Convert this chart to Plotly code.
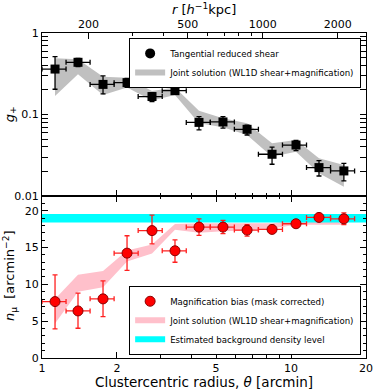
import plotly.graph_objects as go

# bins in clustercentric radius (arcmin)
theta = [1.128, 1.395, 1.758, 2.195, 2.765, 3.42, 4.27, 5.33, 6.66, 8.39, 10.47, 12.95, 16.3]
theta_edges = [1.0, 1.249, 1.560, 1.948, 2.433, 3.039, 3.796, 4.741, 5.922, 7.396,
               9.238, 11.54, 14.41, 18.0]

# tangential reduced shear
g_t = [0.361, 0.437, 0.234, 0.246, 0.166, 0.196, 0.080, 0.081, 0.0658, 0.0325, 0.0422, 0.0223, 0.0203]
g_t_hi = [0.512, 0.489, 0.297, 0.278, 0.185, 0.216, 0.094, 0.094, 0.074, 0.0397, 0.048, 0.0271, 0.0251]
g_t_lo = [0.204, 0.386, 0.179, 0.216, 0.144, 0.179, 0.0646, 0.068, 0.056, 0.0245, 0.036, 0.0176, 0.0153]
g_joint_hi = [0.49, 0.476, 0.291, 0.283, 0.194, 0.215, 0.111, 0.0898, 0.078, 0.0443, 0.0486, 0.029, 0.024]
g_joint_lo = [0.169, 0.311, 0.173, 0.215, 0.148, 0.173, 0.078, 0.0697, 0.056, 0.0303, 0.035, 0.019, 0.013]

# magnification bias (counts per arcmin^2)
n_mu = [7.66, 6.39, 8.03, 14.24, 17.3, 14.56, 17.78, 17.78, 17.37, 17.46, 18.23, 19.09, 18.9]
n_mu_hi = [11.3, 8.8, 10.48, 16.6, 19.4, 16.05, 18.9, 18.7, 18.1, 18.0, 18.5, 19.46, 19.7]
n_mu_lo = [3.95, 4.04, 5.62, 11.9, 15.5, 13.0, 16.65, 16.9, 16.55, 16.96, 17.87, 18.7, 18.1]
n_joint_hi = [8.0, 11.3, 11.8, 14.6, 15.4, 18.2, 18.3, 18.3, 18.3, 18.3, 18.8, 18.8, 18.8]
n_joint_lo = [4.7, 9.0, 9.6, 13.1, 14.2, 17.4, 17.0, 17.2, 17.3, 17.6, 18.1, 18.1, 18.1]
n_bg = [18.4, 19.55]

theta_lim = [1, 20]
kpc_per_arcmin = 130.0
r_ticks = [200, 500, 1000, 2000]
r_minor = [300, 400, 600, 700, 800, 900]

FONT = "DejaVu Sans, sans-serif"

xm = [t - lo for t, lo in zip(theta, theta_edges[:-1])]
xp = [hi - t for t, hi in zip(theta, theta_edges[1:])]


def band(lo, hi):
    return theta + theta[::-1], hi + lo[::-1]


fig = go.Figure()

# ---- top panel: shear ----
bx, by = band(g_joint_lo, g_joint_hi)
fig.add_trace(go.Scatter(
    x=bx, y=by, fill="toself", mode="none", fillcolor="#C0C0C0",
    name="Joint solution (WL1D shear+magnification)",
    xaxis="x2", yaxis="y2", legend="legend", legendrank=2,
))
fig.add_trace(go.Scatter(
    x=theta, y=g_t, mode="markers", showlegend=False,
    marker=dict(symbol="square", size=9, color="black"),
    error_x=dict(type="data", array=xp, arrayminus=xm, color="black", thickness=1.3, width=2.5),
    error_y=dict(type="data", array=[h - v for h, v in zip(g_t_hi, g_t)],
                 arrayminus=[v - l for v, l in zip(g_t, g_t_lo)],
                 color="black", thickness=1.3, width=2.5),
    xaxis="x2", yaxis="y2",
))
fig.add_trace(go.Scatter(
    x=[None], y=[None], mode="markers", name="Tangential reduced shear",
    marker=dict(symbol="circle", size=10, color="black"),
    xaxis="x2", yaxis="y2", legend="legend", legendrank=1,
))
# physical radius axis (r = theta * kpc_per_arcmin), invisible carrier trace
fig.add_trace(go.Scatter(
    x=[t * kpc_per_arcmin for t in theta], y=g_t, mode="none", showlegend=False,
    hoverinfo="skip", xaxis="x3", yaxis="y2",
))

# ---- bottom panel: magnification ----
bx, by = band(n_joint_lo, n_joint_hi)
fig.add_trace(go.Scatter(
    x=bx, y=by, fill="toself", mode="none", fillcolor="#FFC0CB",
    name="Joint solution (WL1D shear+magnification)",
    xaxis="x", yaxis="y", legend="legend2", legendrank=2,
))
fig.add_trace(go.Scatter(
    x=[theta_lim[0], theta_lim[1], theta_lim[1], theta_lim[0]],
    y=[n_bg[0], n_bg[0], n_bg[1], n_bg[1]],
    fill="toself", mode="none", fillcolor="#00FFFF",
    name="Estimated background density level",
    xaxis="x", yaxis="y", legend="legend2", legendrank=3,
))
fig.add_trace(go.Scatter(
    x=theta, y=n_mu, mode="markers", name="Magnification bias (mask corrected)",
    marker=dict(symbol="circle", size=10, color="#FF0000", line=dict(color="#8B0000", width=1)),
    error_x=dict(type="data", array=xp, arrayminus=xm, color="#FF2020", thickness=1.3, width=2.5),
    error_y=dict(type="data", array=[h - v for h, v in zip(n_mu_hi, n_mu)],
                 arrayminus=[v - l for v, l in zip(n_mu, n_mu_lo)],
                 color="#FF2020", thickness=1.3, width=2.5),
    xaxis="x", yaxis="y", legend="legend2", legendrank=1,
))

axis_common = dict(
    showline=True, linecolor="black", linewidth=1, ticks="inside",
    ticklen=6, tickcolor="black", tickwidth=1, showgrid=False, zeroline=False,
    automargin=False,
    tickfont=dict(family=FONT, size=11, color="black"),
)
xlog = [0, 1.30103]
top_dom = [0.4985, 1.0]
bot_dom = [0.0, 0.4985]
minor_x = dict(tickvals=[3, 4, 6, 7, 8, 9], ticklen=3, ticks="inside", tickcolor="black")
legend_style = dict(
    bgcolor="white", bordercolor="black", borderwidth=1,
    font=dict(family=FONT, size=8.6, color="black"),
    tracegroupgap=0, itemwidth=30,
)

fig.update_layout(
    width=374, height=390,
    margin=dict(l=42, r=8, t=33, b=32),
    paper_bgcolor="white", plot_bgcolor="white",
    font=dict(family=FONT, color="black"),
    xaxis=dict(
        **axis_common, type="log", range=xlog, anchor="y", domain=[0, 1],
        mirror="allticks", tickvals=[1, 2, 5, 10, 20], ticktext=["1", "2", "5", "10", "20"],
        minor=minor_x,
    ),
    yaxis=dict(
        **axis_common, range=[0, 22], domain=bot_dom, anchor="x", mirror="allticks",
        tickvals=[0, 5, 10, 15, 20],
        minor=dict(dtick=1, ticklen=3, ticks="inside", tickcolor="black"),
    ),
    xaxis2=dict(
        **axis_common, type="log", range=xlog, anchor="y2", domain=[0, 1],
        mirror=True, showticklabels=False, tickvals=[1, 2, 5, 10, 20],
        minor=minor_x,
    ),
    xaxis3=dict(
        **axis_common, type="log", overlaying="x2", anchor="y2", side="top",
        range=[xlog[0] + 2.11394, xlog[1] + 2.11394],
        tickvals=r_ticks, ticktext=[str(v) for v in r_ticks],
        minor=dict(tickvals=r_minor, ticklen=3, ticks="inside", tickcolor="black"),
    ),
    yaxis2=dict(
        **axis_common, type="log", range=[-2, 0], domain=top_dom, anchor="x2",
        mirror="allticks", tickvals=[0.01, 0.1, 1], ticktext=["0.01", "0.1", "1"],
        minor=dict(tickvals=[m * d for d in (0.01, 0.1) for m in range(2, 10)],
                   ticklen=3, ticks="inside", tickcolor="black"),
    ),
    legend=dict(x=0.985, y=0.985, xanchor="right", yanchor="top", **legend_style),
    legend2=dict(x=0.985, y=0.01, xanchor="right", yanchor="bottom", **legend_style),
    annotations=[
        dict(text="Clustercentric radius, <i>θ</i> [arcmin]", x=0.5, y=-0.074,
             xref="paper", yref="paper", showarrow=False, yanchor="middle",
             font=dict(family=FONT, size=13.5)),
        dict(text="<i>r</i> [<i>h</i><sup>−1</sup>kpc]", x=0.5, y=1.074,
             xref="paper", yref="paper", showarrow=False, yanchor="middle",
             font=dict(family=FONT, size=13)),
        dict(text="<i>g</i><sub>+</sub>", x=-0.099, y=0.75, textangle=-90,
             xref="paper", yref="paper", showarrow=False, xanchor="center", yanchor="middle",
             font=dict(family=FONT, size=13)),
        dict(text="<i>n</i><sub>μ</sub>  [arcmin<sup>−2</sup>]", x=-0.099, y=0.255, textangle=-90,
             xref="paper", yref="paper", showarrow=False, xanchor="center", yanchor="middle",
             font=dict(family=FONT, size=13)),
    ],
)

# drop the browser's default page margin so the figure sits at the window origin
fig.write_html(
    "out.html",
    config={"displayModeBar": False},
    post_script="document.body.style.margin = '0px';",
)
